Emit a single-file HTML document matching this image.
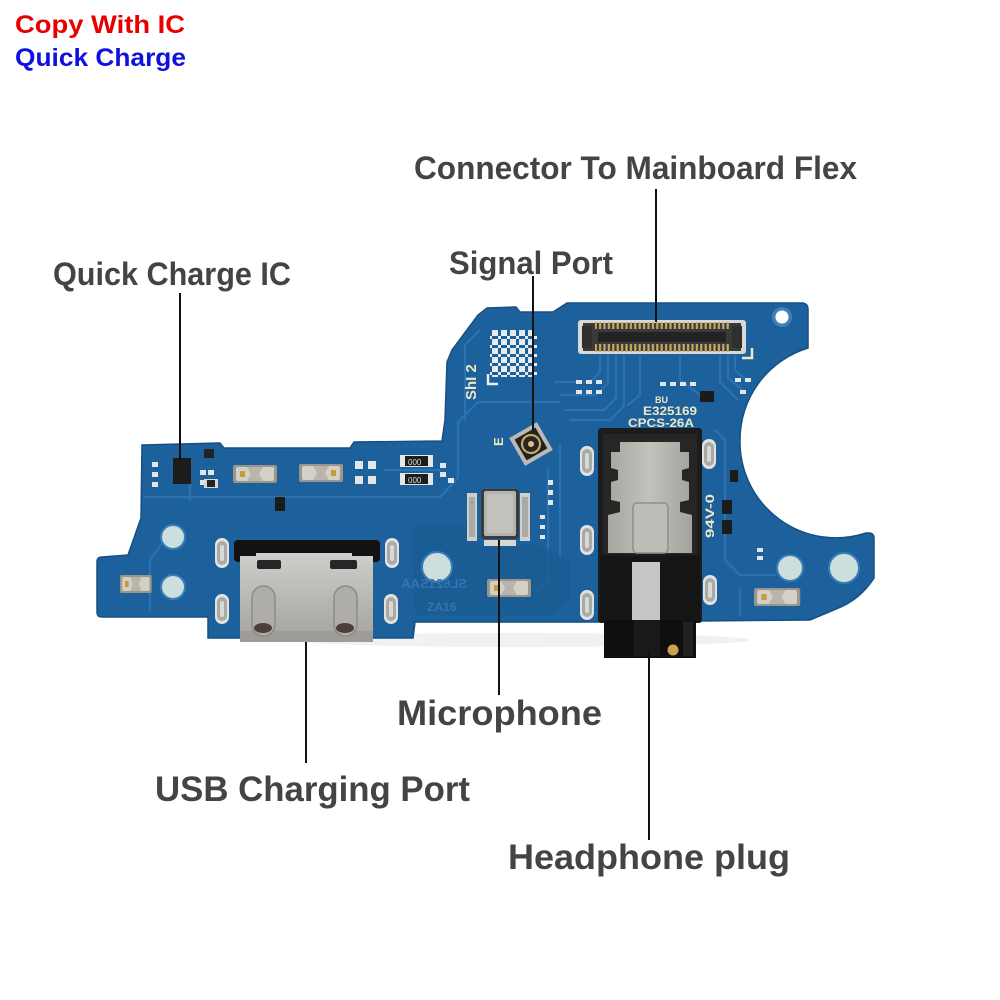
<!DOCTYPE html>
<html>
<head>
<meta charset="utf-8">
<style>
  html,body{margin:0;padding:0;background:#ffffff;}
  svg{display:block;}
  .lbl{font-family:"Liberation Sans",Arial,sans-serif;font-weight:bold;fill:#444444;}
  .silk{font-family:"Liberation Sans",Arial,sans-serif;font-weight:bold;fill:#efe6c2;}
</style>
</head>
<body>
<svg width="1000" height="1000" viewBox="0 0 1000 1000" xmlns="http://www.w3.org/2000/svg">
  <defs>
    <pattern id="pins" width="4.4" height="8" patternUnits="userSpaceOnUse">
      <rect x="0.6" y="0" width="2.2" height="8" fill="#c9a862"/>
    </pattern>
    <pattern id="qr" width="9" height="9" patternUnits="userSpaceOnUse">
      <rect width="9" height="9" fill="#1d619c"/>
      <rect x="0" y="0" width="3" height="3" fill="#e8ecef"/>
      <rect x="6" y="0" width="3" height="3" fill="#e8ecef"/>
      <rect x="3" y="3" width="3" height="3" fill="#e8ecef"/>
      <rect x="0" y="6" width="3" height="3" fill="#e8ecef"/>
      <rect x="6" y="6" width="3" height="3" fill="#dfe5ea"/>
    </pattern>
    <linearGradient id="metal" x1="0" y1="0" x2="0" y2="1">
      <stop offset="0" stop-color="#cfcfcb"/>
      <stop offset="0.5" stop-color="#b9b8b3"/>
      <stop offset="1" stop-color="#a4a39e"/>
    </linearGradient>
    <linearGradient id="shield" x1="0" y1="0" x2="1" y2="0">
      <stop offset="0" stop-color="#a7a6a1"/>
      <stop offset="0.5" stop-color="#c2c1bc"/>
      <stop offset="1" stop-color="#a3a29d"/>
    </linearGradient>
    <g id="spring">
      <rect x="0" y="0" width="44" height="18" rx="2" fill="#9b968c"/>
      <rect x="3" y="2" width="38" height="14" rx="2" fill="#d3d0c8"/>
      <polygon points="14,2 30,2 26,9 30,16 14,16 18,9" fill="#b9b5ac"/>
      <rect x="7" y="6" width="5" height="6" fill="#c79a3c"/>
    </g>
    <g id="oval">
      <rect x="-7" y="-15" width="14" height="30" rx="7" fill="#e2e2e0"/>
      <rect x="-5" y="-12" width="10" height="24" rx="5" fill="#a9a9a6"/>
      <rect x="-2" y="-8" width="4" height="16" rx="2" fill="#d8d8d6"/>
    </g>
  </defs>

  <rect width="1000" height="1000" fill="#ffffff"/>

  <!-- faint shadow under board -->
  <ellipse cx="520" cy="640" rx="230" ry="7" fill="#f1f1f1"/>

  <!-- PCB outline -->
  <path d="M142,445 L220,443 L224,448 L350,448 L354,442 L442,441 L445,420 L447,362 L452,350 L478,315 L487,308 L516,307 L520,312 L553,312 L567,303 L803,303 Q808,304 808,309 L808,348 A96,96 0 0,0 740,440 A96,96 0 0,0 866,533 L870,533 Q874,534 874,538 L874,578 Q860,600 836,609 L810,620 L700,621 L600,622 L415,622 L413,638 L208,638 L208,617 L102,617 Q97,617 97,612 L97,562 Q97,557 102,557 L128,555 L141,518 Z"
        fill="#1d619c" stroke="#164f82" stroke-width="1.5"/>

  <!-- lighter copper traces -->
  <g fill="none" stroke="#2a72b0" stroke-width="2.2" stroke-linecap="round">
    <path d="M145,497 L440,497"/>
    <path d="M150,610 L150,560 L172,530"/>
    <path d="M440,497 L458,478 L458,422 L478,402 L560,402"/>
    <path d="M555,382 L590,382 L600,372 L600,356"/>
    <path d="M560,395 L596,395 L608,383 L608,356"/>
    <path d="M565,410 L604,410 L616,398 L616,356"/>
    <path d="M570,420 L610,420 L624,406 L624,356"/>
    <path d="M735,356 L735,370 L748,382"/>
    <path d="M728,356 L728,378 L745,392"/>
    <path d="M720,356 L720,382 L738,400"/>
    <path d="M715,430 L725,440 L725,560 L740,575 L775,575"/>
    <path d="M560,445 L560,600"/>
    <path d="M548,470 L548,580 L535,592"/>
    <path d="M480,330 L465,345 L465,420"/>
    <path d="M740,590 L740,615"/>
    <path d="M190,485 L190,500"/>
    <path d="M385,470 L440,470"/>
    <path d="M640,356 L640,395 L628,405"/>
    <path d="M680,356 L680,380 L700,395"/>
  </g>
  <!-- darker ground-pour regions -->
  <path d="M420,525 L470,525 L480,545 L540,545 L570,560 L570,600 L550,615 L415,615 L412,530 Z" fill="#1a5a92" opacity="0.7"/>

  <!-- holes -->
  <g fill="#cddedf" stroke="#3a7db5" stroke-width="2">
    <circle cx="173" cy="537" r="12"/>
    <circle cx="173" cy="587" r="12"/>
    <circle cx="437" cy="567" r="15"/>
    <circle cx="790" cy="568" r="13"/>
    <circle cx="844" cy="568" r="15"/>
  </g>
  <circle cx="782" cy="317" r="10" fill="#3f82bb"/>
  <circle cx="782" cy="317" r="6.5" fill="#ffffff"/>

  <!-- QR / data matrix -->
  <rect x="490" y="330" width="47" height="47" fill="url(#qr)"/>
  <path d="M488,374 L488,384 L498,384" fill="none" stroke="#e8ecef" stroke-width="2.5"/>

  <!-- silkscreen text -->
  <text class="silk" x="0" y="0" font-size="15" transform="translate(476,400) rotate(-90)">ShI 2</text>
  <text class="silk" x="0" y="0" font-size="13" transform="translate(503,446) rotate(-90)">E</text>
  <text class="silk" x="655" y="403" font-size="9">BU</text>
  <text class="silk" x="643" y="415" font-size="12" textLength="54" lengthAdjust="spacingAndGlyphs">E325169</text>
  <text class="silk" x="628" y="427" font-size="12" textLength="66" lengthAdjust="spacingAndGlyphs">CPCS-26A</text>
  <text class="silk" x="0" y="0" font-size="12" transform="translate(714,538) rotate(-90)" textLength="44" lengthAdjust="spacingAndGlyphs">94V-0</text>
  <path d="M742,358 L752,358 L752,348" fill="none" stroke="#efe6c2" stroke-width="2.5"/>
  <text x="0" y="0" font-size="13" font-family="Liberation Sans, sans-serif" font-weight="bold" fill="#3474b0" transform="translate(467,588) scale(-1,1)">SL621SAA</text>
  <text x="427" y="611" font-size="12" font-family="Liberation Sans, sans-serif" font-weight="bold" fill="#3474b0">ZA16</text>

  <!-- small SMD parts / pads -->
  <g fill="#e3e6e8">
    <rect x="355" y="461" width="8" height="8"/><rect x="368" y="461" width="8" height="8"/>
    <rect x="355" y="476" width="8" height="8"/><rect x="368" y="476" width="8" height="8"/>
    <rect x="440" y="463" width="6" height="5"/><rect x="440" y="472" width="6" height="5"/><rect x="448" y="478" width="6" height="5"/>
    <rect x="152" y="462" width="6" height="5"/><rect x="152" y="472" width="6" height="5"/><rect x="152" y="482" width="6" height="5"/>
    <rect x="200" y="470" width="6" height="5"/><rect x="208" y="470" width="6" height="5"/><rect x="200" y="480" width="6" height="5"/>
    <rect x="548" y="480" width="5" height="5"/><rect x="548" y="490" width="5" height="5"/><rect x="548" y="500" width="5" height="5"/>
    <rect x="540" y="515" width="5" height="4"/><rect x="540" y="525" width="5" height="4"/><rect x="540" y="535" width="5" height="4"/>
    <rect x="576" y="380" width="6" height="4"/><rect x="586" y="380" width="6" height="4"/><rect x="596" y="380" width="6" height="4"/>
    <rect x="576" y="390" width="6" height="4"/><rect x="586" y="390" width="6" height="4"/><rect x="596" y="390" width="6" height="4"/>
    <rect x="660" y="382" width="6" height="4"/><rect x="670" y="382" width="6" height="4"/><rect x="680" y="382" width="6" height="4"/><rect x="690" y="382" width="6" height="4"/>
    <rect x="735" y="378" width="6" height="4"/><rect x="745" y="378" width="6" height="4"/>
    <rect x="740" y="390" width="6" height="4"/>
    <rect x="757" y="548" width="6" height="4"/><rect x="757" y="556" width="6" height="4"/>
  </g>
  <!-- small black parts -->
  <g fill="#1b1b1b">
    <rect x="700" y="391" width="14" height="11"/>
    <rect x="722" y="500" width="10" height="14"/>
    <rect x="722" y="520" width="10" height="14"/>
    <rect x="275" y="497" width="10" height="14"/>
    <rect x="730" y="470" width="8" height="12"/>
  </g>

  <!-- Quick Charge IC -->
  <rect x="173" y="458" width="18" height="26" fill="#1c1c1c"/>
  <rect x="204" y="479" width="14" height="9" fill="#d5d5d3"/>
  <rect x="207" y="480" width="8" height="7" fill="#222"/>
  <rect x="204" y="449" width="10" height="9" fill="#222"/>

  <!-- resistors "000" -->
  <g>
    <rect x="400" y="455" width="33" height="12" fill="#e6e6e4"/>
    <rect x="405" y="456" width="23" height="10" fill="#1d1d1d"/>
    <text x="408" y="465" font-size="8" font-family="Liberation Sans, sans-serif" fill="#ddd">000</text>
    <rect x="400" y="473" width="33" height="12" fill="#e6e6e4"/>
    <rect x="405" y="474" width="23" height="10" fill="#1d1d1d"/>
    <text x="408" y="483" font-size="8" font-family="Liberation Sans, sans-serif" fill="#ddd">000</text>
  </g>

  <!-- spring contacts -->
  <use href="#spring" transform="translate(120,575) scale(0.72,1)"/>
  <use href="#spring" transform="translate(233,465)"/>
  <use href="#spring" transform="translate(343,464) scale(-1,1)"/>
  <use href="#spring" transform="translate(487,579)"/>
  <use href="#spring" transform="translate(754,588) scale(1.05,1)"/>

  <!-- oval solder pads -->
  <use href="#oval" transform="translate(222,553)"/>
  <use href="#oval" transform="translate(222,609)"/>
  <use href="#oval" transform="translate(392,553)"/>
  <use href="#oval" transform="translate(391,609)"/>
  <use href="#oval" transform="translate(587,461)"/>
  <use href="#oval" transform="translate(587,540)"/>
  <use href="#oval" transform="translate(587,605)"/>
  <use href="#oval" transform="translate(709,454)"/>
  <use href="#oval" transform="translate(710,590)"/>

  <!-- Board-to-board FPC connector -->
  <g>
    <rect x="578" y="320" width="168" height="34" rx="3" fill="#d9d9d7"/>
    <rect x="583" y="323" width="158" height="28" fill="#3a3a3a"/>
    <rect x="595" y="322" width="134" height="7" fill="url(#pins)"/>
    <rect x="595" y="344" width="134" height="8" fill="url(#pins)"/>
    <rect x="598" y="332" width="128" height="10" fill="#232323"/>
    <rect x="582" y="326" width="10" height="22" fill="#2f2f2f"/>
    <rect x="732" y="326" width="10" height="22" fill="#2f2f2f"/>
  </g>

  <!-- Signal (coax) port -->
  <g transform="translate(531,444) rotate(-30)">
    <rect x="-16" y="-16" width="32" height="32" fill="#b9b9b5"/>
    <rect x="-12" y="-12" width="24" height="24" fill="#222"/>
    <circle r="9" fill="#2a2520" stroke="#c9a862" stroke-width="2.2"/>
    <circle r="3" fill="#d8c08a"/>
  </g>

  <!-- Microphone -->
  <g>
    <rect x="467" y="493" width="10" height="48" fill="#cfcfcd"/>
    <rect x="469" y="497" width="6" height="40" fill="#a9a9a6"/>
    <rect x="520" y="493" width="10" height="48" fill="#cfcfcd"/>
    <rect x="522" y="497" width="6" height="40" fill="#a9a9a6"/>
    <rect x="481" y="489" width="38" height="50" rx="3" fill="#3b3b3b"/>
    <rect x="484" y="491" width="32" height="45" rx="2" fill="#b5b3ad"/>
    <rect x="487" y="494" width="26" height="39" rx="2" fill="#c3c1bb"/>
    <rect x="484" y="540" width="32" height="6" fill="#d7d7d5"/>
  </g>

  <!-- USB connector -->
  <g>
    <rect x="234" y="540" width="146" height="22" rx="4" fill="#121212"/>
    <path d="M240,556 L256,556 L256,553 L352,553 L352,556 L373,556 L373,642 L240,642 Z" fill="url(#metal)"/>
    <rect x="257" y="560" width="24" height="9" rx="2" fill="#262626"/>
    <rect x="330" y="560" width="27" height="9" rx="2" fill="#262626"/>
    <rect x="240" y="631" width="133" height="11" fill="#9d9c97"/>
    <rect x="252" y="586" width="23" height="50" rx="11.5" fill="#aeada8" stroke="#8c8b86" stroke-width="1.5"/>
    <rect x="334" y="586" width="23" height="50" rx="11.5" fill="#aeada8" stroke="#8c8b86" stroke-width="1.5"/>
    <ellipse cx="263" cy="628" rx="9" ry="5" fill="#4a3f3b"/>
    <ellipse cx="345" cy="628" rx="9" ry="5" fill="#4a3f3b"/>
  </g>

  <!-- Headphone jack -->
  <g>
    <rect x="598" y="428" width="104" height="195" rx="3" fill="#1c1c1c"/>
    <rect x="603" y="434" width="94" height="120" fill="#262626"/>
    <path d="M620,442 L680,442 L680,452 L689,452 L689,468 L682,470 L682,480 L689,482 L689,500 L680,502 L680,512 L692,515 L692,553 L608,553 L608,515 L620,512 L620,502 L611,500 L611,482 L618,480 L618,470 L611,468 L611,452 L620,452 Z" fill="url(#shield)"/>
    <rect x="633" y="503" width="35" height="50" rx="4" fill="#bdbcb7" stroke="#8f8e89" stroke-width="1.5"/>
    <rect x="600" y="556" width="100" height="66" fill="#151515"/>
    <rect x="632" y="562" width="28" height="58" fill="#c6c6c4"/>
    <rect x="604" y="620" width="92" height="38" fill="#0f0f0f"/>
    <rect x="634" y="620" width="26" height="36" fill="#1a1a1a"/>
    <circle cx="673" cy="650" r="5.5" fill="#c9a153"/>
    <rect x="683" y="622" width="10" height="34" fill="#222"/>
  </g>

  <!-- leader lines -->
  <g stroke="#111111" stroke-width="2">
    <line x1="656" y1="189" x2="656" y2="322"/>
    <line x1="533" y1="276" x2="533" y2="430"/>
    <line x1="180" y1="293" x2="180" y2="460"/>
    <line x1="499" y1="540" x2="499" y2="695"/>
    <line x1="306" y1="642" x2="306" y2="763"/>
    <line x1="649" y1="650" x2="649" y2="840"/>
  </g>

  <!-- top-left badges -->
  <text x="15" y="33" font-family="Liberation Sans, Arial, sans-serif" font-weight="bold" font-size="25" fill="#e60000" textLength="170" lengthAdjust="spacingAndGlyphs">Copy With IC</text>
  <text x="15" y="66" font-family="Liberation Sans, Arial, sans-serif" font-weight="bold" font-size="25" fill="#0f0fe0" textLength="171" lengthAdjust="spacingAndGlyphs">Quick Charge</text>

  <!-- labels -->
  <text class="lbl" x="414" y="179" font-size="32" textLength="443" lengthAdjust="spacingAndGlyphs">Connector To Mainboard Flex</text>
  <text class="lbl" x="449" y="274" font-size="32" textLength="164" lengthAdjust="spacingAndGlyphs">Signal Port</text>
  <text class="lbl" x="53" y="285" font-size="32" textLength="238" lengthAdjust="spacingAndGlyphs">Quick Charge IC</text>
  <text class="lbl" x="397" y="725" font-size="35" textLength="205" lengthAdjust="spacingAndGlyphs">Microphone</text>
  <text class="lbl" x="155" y="801" font-size="35" textLength="315" lengthAdjust="spacingAndGlyphs">USB Charging Port</text>
  <text class="lbl" x="508" y="869" font-size="35" textLength="282" lengthAdjust="spacingAndGlyphs">Headphone plug</text>
</svg>
</body>
</html>
